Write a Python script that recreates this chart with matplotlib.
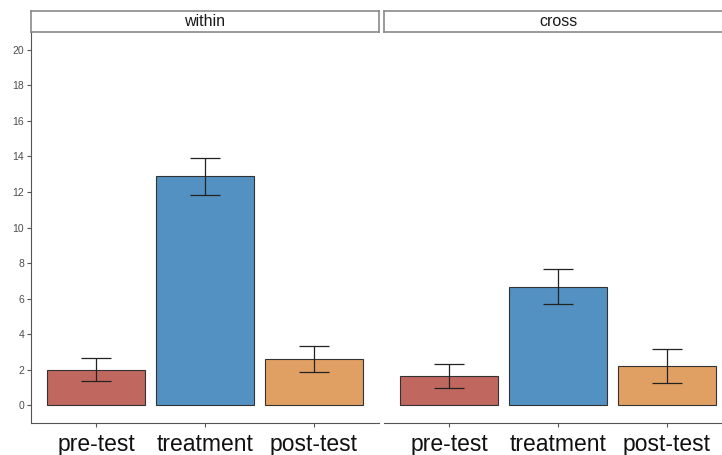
import matplotlib.pyplot as plt
import numpy as np

plt.rcParams["font.family"] = ["Liberation Sans", "DejaVu Sans"]

# Data
panels = ["within", "cross"]
phases = ["pre-test", "treatment", "post-test"]
means = {
    "within": [2.0, 12.9, 2.6],
    "cross": [1.65, 6.67, 2.2],
}
err_low = {
    "within": [1.35, 11.85, 1.85],
    "cross": [0.96, 5.72, 1.27],
}
err_high = {
    "within": [2.68, 13.9, 3.35],
    "cross": [2.3, 7.65, 3.15],
}
colors = ["#C0675F", "#5291C2", "#E0A064"]
yticks = np.arange(0, 21, 2)

fig = plt.figure(figsize=(7.22, 4.55), dpi=100)
W, H = 722, 455

def px_axes(x0, y0, w, h):
    # x0, y0 = top-left corner in pixels
    return fig.add_axes([x0 / W, (H - y0 - h) / H, w / W, h / H])

lefts = [31, 384]
pw = 348
for i, name in enumerate(panels):
    ax = px_axes(lefts[i], 32, pw, 391)
    x = np.arange(len(phases))
    m = np.array(means[name])
    lo = m - np.array(err_low[name])
    hi = np.array(err_high[name]) - m
    ax.bar(x, m, width=0.9, color=colors, edgecolor="#333333", linewidth=0.8, zorder=2)
    ax.errorbar(x, m, yerr=[lo, hi], fmt="none", ecolor="#222222",
                elinewidth=0.9, capsize=11, capthick=0.9, zorder=3)
    ax.set_xlim(-0.6, 2.6)
    ax.set_ylim(-1, 21)
    ax.set_xticks(x)
    ax.set_xticklabels(phases, fontsize=16.5, color="#111111")
    ax.tick_params(axis="x", length=3, color="#555555", pad=4)
    for s in ["top", "right"]:
        ax.spines[s].set_visible(False)
    ax.spines["bottom"].set_color("#555555")
    ax.spines["left"].set_color("#555555")
    if i == 0:
        ax.set_yticks(yticks)
        ax.set_yticklabels([str(v) for v in yticks], fontsize=7.5, color="#4D4D4D")
        ax.tick_params(axis="y", length=3, color="#555555", pad=2)
    else:
        ax.spines["left"].set_visible(False)
        ax.set_yticks([])

    # facet strip
    sax = px_axes(lefts[i], 11, pw, 21)
    sax.set_xticks([])
    sax.set_yticks([])
    for s in sax.spines.values():
        s.set_color("#8a8a8a")
        s.set_linewidth(1.2)
    sax.text(0.5, 0.48, name, ha="center", va="center",
             fontsize=11.5, color="#1A1A1A", transform=sax.transAxes)

fig.savefig("out.png", dpi=100)
